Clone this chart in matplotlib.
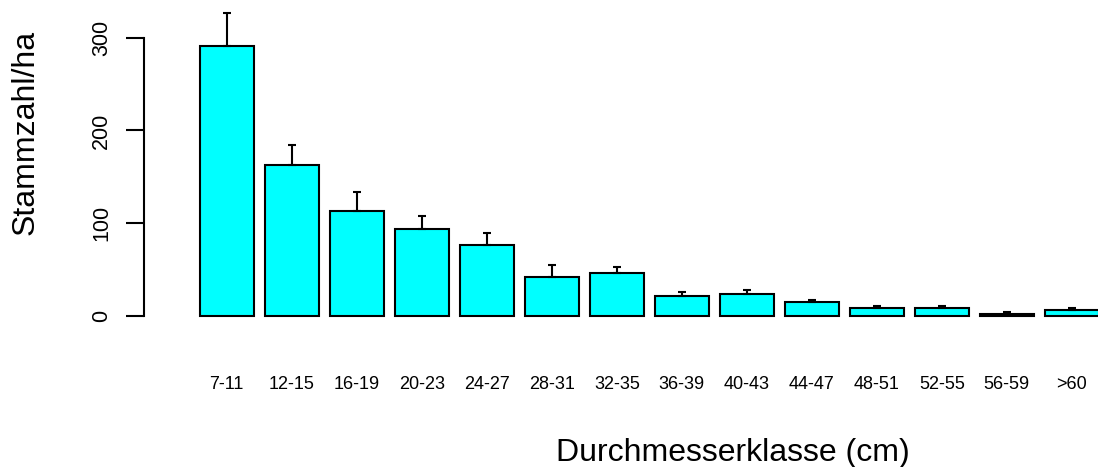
import matplotlib
matplotlib.use("Agg")
import matplotlib.pyplot as plt
import numpy as np

# diameter classes and mean stem numbers per hectare (+ standard error)
classes = ["7-11", "12-15", "16-19", "20-23", "24-27", "28-31", "32-35",
           "36-39", "40-43", "44-47", "48-51", "52-55", "56-59", ">60"]
stems = [291.5, 162.4, 113.5, 94.1, 76.5, 41.7, 46.0,
         21.6, 23.7, 15.4, 8.6, 8.6, 2.5, 6.8]
se = [35.1, 21.6, 20.2, 13.4, 13.0, 13.3, 6.8,
      4.6, 4.7, 1.8, 2.5, 2.5, 2.1, 2.2]

plt.rcParams["font.family"] = ["Liberation Sans", "DejaVu Sans"]

fig = plt.figure(figsize=(10.98, 4.67), dpi=100)
ax = fig.add_axes([0, 0, 1, 1])

# barplot-like positions: width 1, space 0.2
x = 0.7 + 1.2 * np.arange(len(classes))
ax.bar(x, stems, width=1.0, color="#00FFFF", edgecolor="black", linewidth=1.5, zorder=2)
ax.errorbar(x, stems, yerr=[np.zeros(len(se)), se], fmt="none", ecolor="black",
            elinewidth=1.5, capsize=3.2, capthick=1.5, zorder=3)

ax.set_xlim(-3.487, 16.783)
ax.set_ylim(-162.8, 340.6)

# y axis in R style
for side in ["top", "right"]:
    ax.spines[side].set_visible(False)
ax.spines["left"].set_position(("data", -0.83))
ax.spines["left"].set_bounds(0, 300)
ax.spines["left"].set_linewidth(1.5)
ax.set_yticks([0, 100, 200, 300])
ax.tick_params(axis="y", length=13, width=1.5, pad=10, labelsize=15.5, labelrotation=90)
for lab in ax.get_yticklabels():
    lab.set_verticalalignment("center")

# category names under the bars, no axis line
ax.spines["bottom"].set_position(("data", -56))
ax.spines["bottom"].set_color("none")
ax.set_xticks(x, classes)
ax.tick_params(axis="x", length=0, pad=5.5, labelsize=13)

ax.set_ylabel("Stammzahl/ha", fontsize=23, va="center")
ax.yaxis.set_label_coords(26 / 1098, 1 - 132 / 467)
ax.set_xlabel("Durchmesserklasse (cm)", fontsize=23, va="center")
ax.xaxis.set_label_coords(733 / 1098, 1 - 453 / 467)

ax.patch.set_visible(False)
fig.savefig("out.png", dpi=100, facecolor="white")
